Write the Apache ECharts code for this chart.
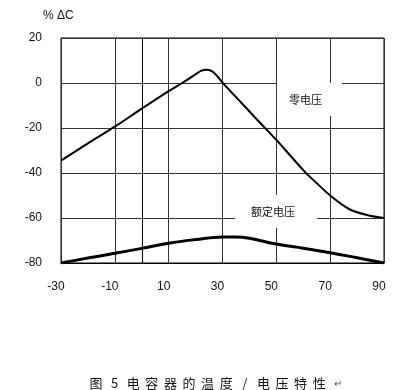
<!DOCTYPE html>
<html>
<head>
<meta charset="utf-8">
<script src="https://cdn.jsdelivr.net/npm/echarts@6/dist/echarts.min.js"></script>
<style>html,body{margin:0;padding:0;background:#fff}#c{width:400px;height:390px}</style>
</head>
<body>
<div id="c"></div>
<script>
// Temperature (°C) tick labels
var xTicks = [-30, -10, 10, 30, 50, 70, 90];
var yTicks = [-80, -60, -40, -20, 0, 20];
// Zero-voltage curve: [temperature, %ΔC]
var zeroVoltage = [[-30,-34.5],[-20,-26.8],[-10,-19.4],[0,-11.4],[10,-3.6],[15,0],[18,2.3],[20,3.9],[22,5.4],[24,5.9],[26,5.3],[28,3.1],[30,0.2],[36,-7.5],[42,-15.2],[50,-25.3],[55,-32],[61,-40],[65,-44.5],[70,-50],[77,-56],[84,-58.8],[90,-60]];
// Rated-voltage curve
var ratedVoltage = [[-30,-80],[-20,-77.8],[-10,-75.7],[0,-73.5],[10,-71.2],[20,-69.6],[30,-68.4],[35,-68.4],[40,-69],[50,-71.6],[60,-73.4],[70,-75.4],[80,-77.7],[90,-80]];
// Annotation labels and their anchor (data coords)
var zeroLabel = '零电压', zeroLabelAt = [62.3, -7.3];
var ratedLabel = '额定电压', ratedLabelAt = [49.9, -57.1];
var yTitle = '% ΔC';
var caption = '图 5 电容器的温度/电压特性↵';

var chart = echarts.init(document.getElementById('c'));
var lab = {color:'#111', fontFamily:'Liberation Sans, Arial', fontSize:12};

// caption drawn glyph by glyph with wide, even spacing (as in the scanned original)
var capGraphics = [];
var cx = 96, step = 18.6;
Array.from(caption).forEach(function (ch) {
  if (ch === ' ') return;
  var isMark = ch === '↵';
  capGraphics.push({type:'text', x:cx, y:383, style:{text:ch, fill: isMark ? '#555' : '#111',
    font: (isMark ? '10px' : '13px') + ' Noto Sans CJK SC', align:'center', verticalAlign:'middle'}});
  cx += step;
});

chart.setOption({
  animation:false,
  backgroundColor:'#fff',
  grid:{left:61, top:38, right:16, bottom:127, show:true, borderColor:'#000', borderWidth:1},
  xAxis:{type:'value', min:xTicks[0], max:xTicks[xTicks.length-1], interval:20,
    axisLine:{show:true, onZero:false, lineStyle:{color:'#000'}}, axisTick:{show:false},
    axisLabel:Object.assign({margin:18, padding:[0,10,0,0]}, lab),
    splitLine:{show:true, lineStyle:{color:'#333', width:1}}},
  yAxis:{type:'value', min:yTicks[0], max:yTicks[yTicks.length-1], interval:20,
    axisLine:{show:true, lineStyle:{color:'#000'}}, axisTick:{show:false},
    axisLabel:Object.assign({margin:19}, lab),
    splitLine:{show:true, lineStyle:{color:'#333', width:1}}},
  series:[
    {type:'line', data:zeroVoltage, smooth:0.35, symbol:'none', lineStyle:{color:'#000', width:2},
     markPoint:{symbol:'rect', symbolSize:[65,33], itemStyle:{color:'#fff'},
       label:{show:true, formatter:zeroLabel, color:'#111', fontSize:11, fontFamily:'Noto Sans CJK SC', offset:[-4,0]},
       data:[{coord:zeroLabelAt}]}},
    {type:'line', data:ratedVoltage, smooth:0.4, symbol:'none', lineStyle:{color:'#000', width:3},
     markPoint:{symbol:'rect', symbolSize:[82,33], itemStyle:{color:'#fff'},
       label:{show:true, formatter:ratedLabel, color:'#111', fontSize:11, fontFamily:'Noto Sans CJK SC', offset:[-3,0]},
       data:[{coord:ratedLabelAt}]}}
  ],
  graphic:[
    {type:'text', left:43, top:10, style:{text:yTitle, fill:'#111', font:'12px Liberation Sans, Arial'}}
  ].concat(capGraphics)
});
</script>
</body>
</html>
